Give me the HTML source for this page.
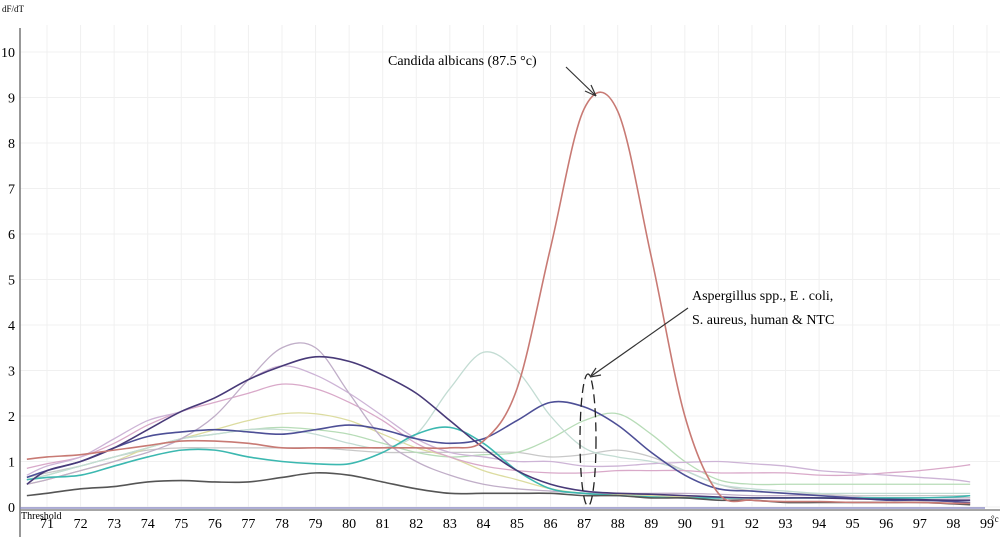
<!DOCTYPE html>
<html><head><meta charset="utf-8"><style>
body{margin:0;background:#fff}
svg{display:block;font-family:"Liberation Serif",serif}
</style></head><body>
<svg id="chart" width="1000" height="537" viewBox="0 0 1000 537">
<g id="grid"></g>
<g id="series"></g>
<g id="axes"></g>
<g>
<text x="388" y="65" font-size="14">Candida albicans (87.5 °c)</text>
<line x1="566" y1="67" x2="596" y2="96" stroke="#333" stroke-width="1.2"/>
<path d="M596 96 L585 91 M596 96 L591 85" stroke="#333" stroke-width="1.2" fill="none"/>
<text x="692" y="300" font-size="14">Aspergillus spp., E . coli,</text>
<text x="692" y="324" font-size="14">S. aureus, human &amp; NTC</text>
<line x1="688" y1="308" x2="590" y2="377" stroke="#333" stroke-width="1.2"/>
<path d="M590 377 L596 368 M590 377 L601 375" stroke="#333" stroke-width="1.2" fill="none"/>
<ellipse cx="588" cy="440" rx="8" ry="66" fill="none" stroke="#222" stroke-width="1.3" stroke-dasharray="9,5"/>
</g>
</svg>
<script>
const temps=[70.4,71,72,73,74,75,76,77,78,79,80,81,82,83,84,85,86,87,88,89,90,91,92,93,94,95,96,97,98,98.5];
const yTicks=[0,1,2,3,4,5,6,7,8,9,10];
const xTicks=[71,72,73,74,75,76,77,78,79,80,81,82,83,84,85,86,87,88,89,90,91,92,93,94,95,96,97,98,99];
const candida=[1.05,1.1,1.15,1.25,1.35,1.45,1.45,1.4,1.3,1.3,1.3,1.3,1.3,1.3,1.45,2.6,5.7,8.75,8.7,5.5,2.0,0.3,0.15,0.12,0.12,0.1,0.1,0.1,0.08,0.08];
const navy=[0.5,0.8,1.0,1.3,1.7,2.1,2.4,2.8,3.1,3.3,3.2,2.9,2.5,1.9,1.3,0.8,0.5,0.35,0.3,0.28,0.25,0.22,0.2,0.2,0.2,0.18,0.17,0.16,0.15,0.15];
const blue=[0.65,0.8,1.0,1.3,1.55,1.65,1.7,1.65,1.6,1.7,1.8,1.7,1.5,1.4,1.5,1.9,2.3,2.2,1.8,1.2,0.7,0.4,0.35,0.3,0.25,0.2,0.15,0.15,0.12,0.1];
const lavender=[0.5,0.6,0.8,1.0,1.2,1.5,2.0,2.8,3.5,3.5,2.5,1.5,1.0,0.7,0.5,0.4,0.35,0.3,0.3,0.3,0.3,0.28,0.25,0.25,0.25,0.22,0.2,0.2,0.2,0.2];
const mauve=[0.7,0.9,1.1,1.5,1.9,2.1,2.4,2.8,3.1,2.9,2.5,2.0,1.5,1.2,1.1,1.0,1.0,0.9,0.9,0.95,0.98,1.0,0.95,0.9,0.8,0.75,0.7,0.65,0.6,0.55];
const pink=[0.85,0.95,1.1,1.4,1.8,2.1,2.3,2.5,2.7,2.6,2.3,1.9,1.4,1.1,0.9,0.8,0.75,0.75,0.8,0.8,0.8,0.75,0.75,0.75,0.7,0.7,0.75,0.8,0.88,0.93];
const mint=[0.6,0.7,0.9,1.1,1.3,1.5,1.6,1.7,1.7,1.6,1.4,1.3,1.6,2.6,3.4,3.0,2.0,1.3,1.1,1.0,0.8,0.5,0.4,0.35,0.3,0.3,0.3,0.3,0.3,0.3];
const yellow=[0.5,0.6,0.8,1.0,1.3,1.5,1.7,1.9,2.05,2.05,1.9,1.6,1.3,1.1,0.8,0.6,0.4,0.3,0.28,0.25,0.22,0.2,0.2,0.2,0.2,0.2,0.2,0.2,0.2,0.2];
const green=[0.6,0.7,0.9,1.1,1.3,1.5,1.6,1.7,1.75,1.7,1.6,1.4,1.2,1.1,1.15,1.2,1.5,1.9,2.05,1.6,1.0,0.6,0.5,0.5,0.5,0.5,0.5,0.5,0.5,0.5];
const teal=[0.6,0.65,0.7,0.9,1.1,1.25,1.25,1.1,1.0,0.95,0.95,1.2,1.6,1.75,1.4,0.8,0.4,0.3,0.25,0.22,0.2,0.2,0.2,0.2,0.2,0.2,0.2,0.2,0.22,0.25];
const darkgray=[0.25,0.3,0.4,0.45,0.55,0.58,0.55,0.55,0.65,0.75,0.7,0.55,0.4,0.3,0.3,0.3,0.3,0.25,0.25,0.2,0.2,0.15,0.15,0.1,0.1,0.1,0.1,0.1,0.07,0.05];
const grayish=[0.65,0.75,0.9,1.1,1.25,1.3,1.3,1.3,1.3,1.3,1.25,1.2,1.2,1.2,1.2,1.2,1.1,1.15,1.25,1.1,0.8,0.5,0.35,0.3,0.28,0.25,0.25,0.25,0.25,0.25];
const seriesList=[
 ["grayish",grayish,"#c8c8c8"],["green",green,"#b7dcb7"],["yellow",yellow,"#dcdca0"],["mint",mint,"#c3dcd3"],
 ["pink",pink,"#d9a9c9"],["mauve",mauve,"#cdb4d6"],["lavender",lavender,"#c0aec8"],["teal",teal,"#3cb8b0"],
 ["darkgray",darkgray,"#555"],["blue",blue,"#4d4f96"],["navy",navy,"#483a78"],["candida",candida,"#c87a74"]];
const NS="http://www.w3.org/2000/svg";
function xs(t){return 47+(t-71)*33.57;}
function ys(v){return 507-v*45.5;}
function mk(tag,attrs,parent){const e=document.createElementNS(NS,tag);for(const k in attrs)e.setAttribute(k,attrs[k]);parent.appendChild(e);return e;}
const grid=document.getElementById('grid'),axes=document.getElementById('axes'),sg=document.getElementById('series');
xTicks.forEach(t=>{const l=mk('line',{x1:xs(t),x2:xs(t),y1:25,y2:507,stroke:'#f0f0f0'},grid);


const tx=mk('text',{x:xs(t),y:528,'font-size':14,'text-anchor':'middle'},axes);tx.textContent=t;

});
yTicks.forEach(v=>{const l=mk('line',{x1:20,x2:1000,y1:ys(v),y2:ys(v),stroke:'#f0f0f0'},grid);


const tx=mk('text',{x:15,y:ys(v)+5,'font-size':14,'text-anchor':'end'},axes);tx.textContent=v;

});
function path(vals){const p=temps.map((t,i)=>[xs(t),ys(vals[i])]);let d='M'+p[0][0]+' '+p[0][1];
for(let i=0;i<p.length-1;i++){const p0=p[Math.max(0,i-1)],p1=p[i],p2=p[i+1],p3=p[Math.min(p.length-1,i+2)];
d+=` C${p1[0]+(p2[0]-p0[0])/6} ${p1[1]+(p2[1]-p0[1])/6} ${p2[0]-(p3[0]-p1[0])/6} ${p2[1]-(p3[1]-p1[1])/6} ${p2[0]} ${p2[1]}`;}return d;}
seriesList.forEach(([n,v,c])=>{const e=mk('path',{d:path(v),fill:'none',stroke:c,'stroke-width':(n==='candida'||n==='navy'||n==='blue'||n==='darkgray'||n==='teal')?1.6:1.3},sg);

});
const ya=mk('line',{x1:20,x2:20,y1:28,y2:537,stroke:'#777','stroke-width':1.5},axes);


const th=mk('line',{x1:20,x2:1000,y1:510,y2:510,stroke:'#888','stroke-width':1.5},axes);


const th2=mk('line',{x1:20,x2:985,y1:508,y2:508,stroke:'#8080c0','stroke-width':1.2},axes);


const ttl=mk('text',{x:2,y:12,'font-size':9},axes);ttl.textContent='dF/dT';


const thl=mk('text',{x:21,y:519,'font-size':10},axes);thl.textContent='Threshold';


const cu=mk('text',{x:991,y:522,'font-size':9},axes);cu.textContent='°c';


</script>
</body></html>
